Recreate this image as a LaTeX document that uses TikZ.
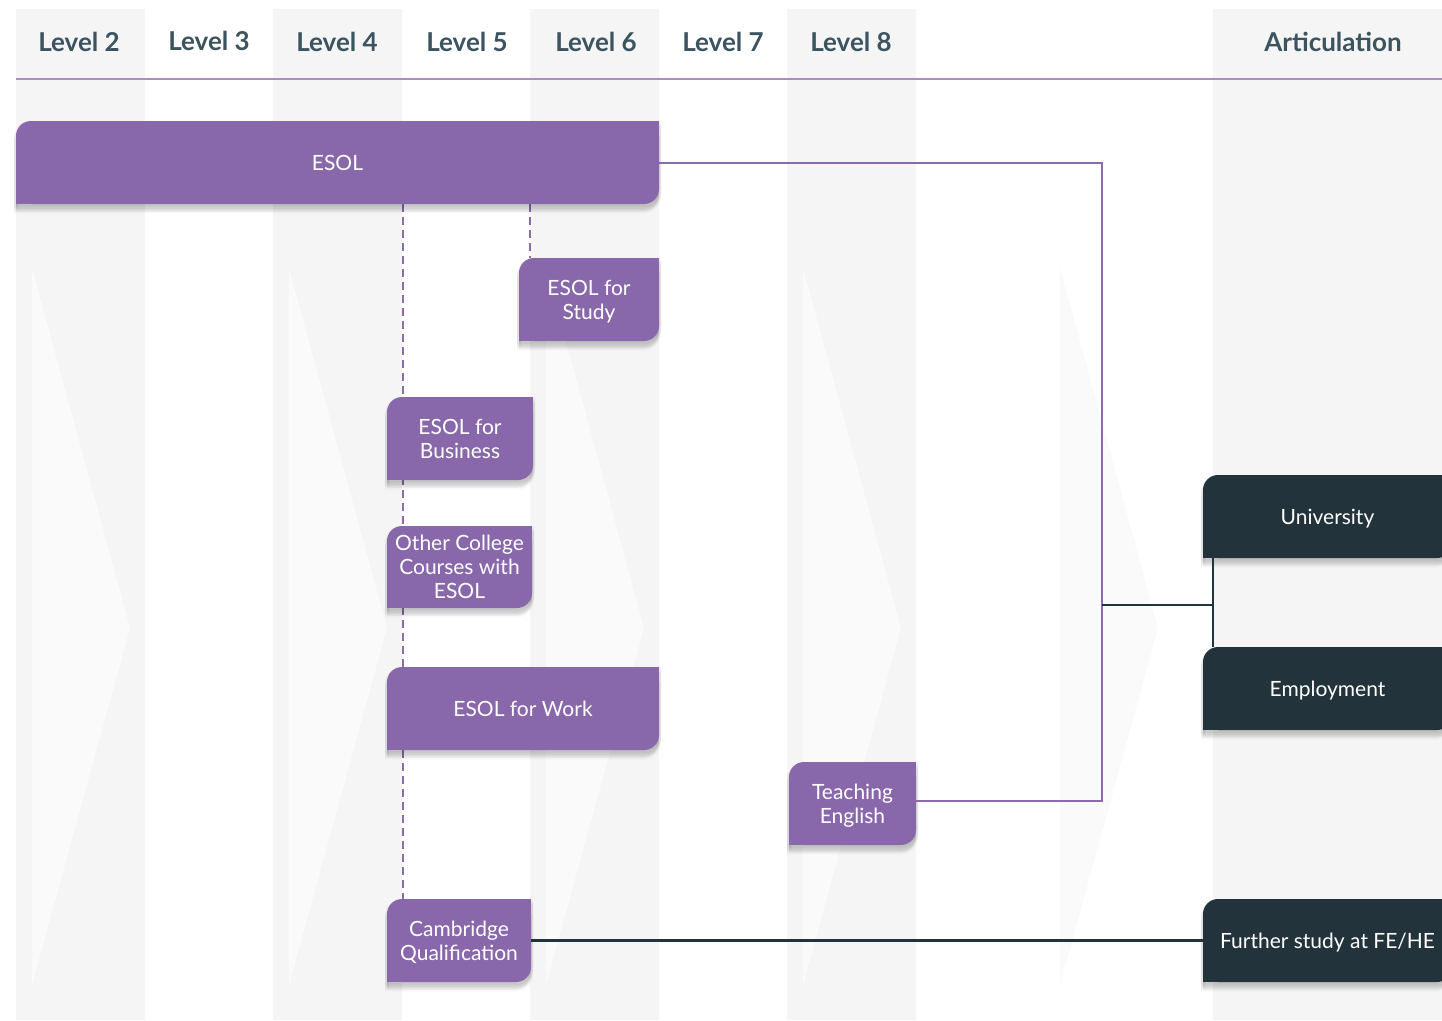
\documentclass[tikz,border=0pt]{standalone}
\usepackage{fontspec}
\setmainfont{Lato}
\usetikzlibrary{calc}
\definecolor{stripe}{HTML}{F5F5F5}
\definecolor{chev}{HTML}{FAFAFA}
\definecolor{purp}{HTML}{8868AB}
\definecolor{purpline}{HTML}{8B6BAE}
\definecolor{dark}{HTML}{22333B}
\definecolor{head}{HTML}{3C5360}
\definecolor{hline}{HTML}{A690C2}
\pgfdeclarelayer{bg}\pgfdeclarelayer{lines}
\pgfsetlayers{bg,lines,main}
\tikzset{
 boxtext/.style={inner sep=0pt, outer sep=0pt, text=white, align=center,
   font=\fontsize{21}{24}\selectfont, text depth=0pt},
 shadowfill/.style={fill=black, fill opacity=0.04, draw=black, draw opacity=0.025, line width=4pt},
 pfill/.style={fill=purp},
 dfill/.style={fill=dark},
 hdr/.style={text=head, inner sep=0pt, font=\fontsize{26}{30}\selectfont\bfseries, text depth=0pt},
 conn/.style={draw=purpline, line width=2pt},
 dconn/.style={draw=dark, line width=2.5pt},
 dash line/.style={draw=purpline, line width=2pt, dash pattern=on 8pt off 5pt},
}
% shadow outline (shifted down by #5)
\newcommand\boxpath[5]{(#1,#2+15+#5) .. controls (#1,#2+6.72+#5) and (#1+6.72,#2+#5) .. (#1+15,#2+#5) -- (#3,#2+#5) -- (#3,#4-15+#5) .. controls (#3,#4-6.72+#5) and (#3-6.72,#4+#5) .. (#3-15,#4+#5) -- (#1,#4+#5) -- cycle}
% box: all corners rounded, then top-right and bottom-left squared off again
\newcommand\mkbox[7]{%
  \foreach \s in {1.5,3,4.5,6,7.5}{\path[shadowfill] \boxpath{#2}{#3}{#4}{#5}{\s};}
  \fill[#6, rounded corners=15pt] (#2,#3) rectangle (#4,#5);
  \fill[#6] (#4-20,#3) rectangle (#4,#3+20);
  \fill[#6] (#2,#5-20) rectangle (#2+20,#5);
  \node[boxtext, minimum width={(#4-#2)*1pt}, minimum height={(#5-#3)*1pt}] (#1) at ({(#2+#4)/2},{(#3+#5)/2}) {#7};
}
\begin{document}
\begin{tikzpicture}[x=1pt,y=1pt,yscale=-1]
\useasboundingbox (0,0) rectangle (1442,1020);
\begin{pgfonlayer}{bg}
  \fill[white] (0,0) rectangle (1442,1020);
  \foreach \a/\b in {16/145, 273/402, 530/659, 787/916, 1213/1442}
    \fill[stripe] (\a,9) rectangle (\b,1020);
  \foreach \a in {32, 289, 546, 803, 1060}
    \fill[chev] (\a,268) -- (\a+98,628) -- (\a,985) -- cycle;
  \draw[hline, line width=1.2pt] (16,79) -- (1442,79);
\end{pgfonlayer}

% headers
\node[hdr] (h2) at (79,42) {Level 2};
\node[hdr] (h3) at (209,41) {Level 3};
\node[hdr] (h4) at (337,42) {Level 4};
\node[hdr] (h5) at (467,42) {Level 5};
\node[hdr] (h6) at (596,42) {Level 6};
\node[hdr] (h7) at (723,42) {Level 7};
\node[hdr] (h8) at (851,42) {Level 8};
\node[hdr] (ha) at (1333,42) {Articulation};

% boxes
\mkbox{esol}{16}{121}{659}{204}{pfill}{ESOL}
\mkbox{study}{519}{258}{659}{341}{pfill}{ESOL for\\Study}
\mkbox{bus}{387}{397}{533}{480}{pfill}{ESOL for\\Business}
\mkbox{other}{387}{526}{532}{608}{pfill}{Other College\\Courses with\\ESOL}
\mkbox{work}{387}{667}{659}{750}{pfill}{ESOL for Work}
\mkbox{teach}{789}{762}{916}{845}{pfill}{Teaching\\English}
\mkbox{camb}{387}{899}{531}{982}{pfill}{Cambridge\\Qualification}
\mkbox{uni}{1203}{475}{1452}{558}{dfill}{University}
\mkbox{emp}{1203}{647}{1452}{730}{dfill}{Employment}
\mkbox{fe}{1203}{899}{1452}{982}{dfill}{Further study at FE/HE}

% helper coordinates
\coordinate (bustop) at (1102,162.5);
\coordinate (busbot) at (1102,800.5);
\coordinate (busmid) at (1102,605);
\coordinate (jn) at (1213,605);
\coordinate (d1x) at (403,0);
\coordinate (d2x) at (530,0);

% dashed progression lines
\begin{pgfonlayer}{lines}
  \draw[dash line] (esol.south -| d1x) -- (camb.north -| d1x);
  \draw[dash line] (esol.south -| d2x) -- (study.north -| d2x);
\end{pgfonlayer}

% connectors to bus
\draw[conn] (esol.east) -- (bustop) -- (busbot) -- ($(teach.east)+(0,-3)$);
\draw[conn] ($(study.east)+(0,-1.5)$) -- ($(study.east)+(0,-1.5)$ -| bustop);
\draw[conn] ($(bus.east)+(0,-1.5)$) -- ($(bus.east)+(0,-1.5)$ -| bustop);
\draw[conn] ($(other.east)+(0,-5)$) -- ($(other.east)+(0,-5)$ -| bustop);
\draw[conn] ($(work.east)+(0,-5.5)$) -- ($(work.east)+(0,-5.5)$ -| bustop);

% articulation connectors
\draw[dconn] (busmid) -- (jn);
\draw[dconn] (uni.south -| jn) -- (emp.north -| jn);
\draw[dconn] (camb.east) -- (fe.west);
\end{tikzpicture}
\end{document}
